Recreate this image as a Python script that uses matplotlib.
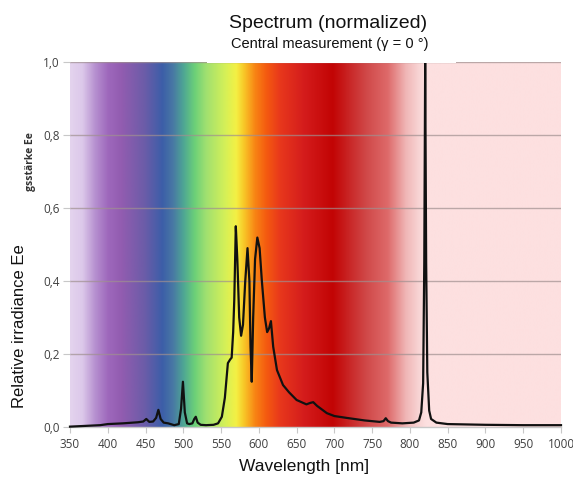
import numpy as np
import matplotlib
matplotlib.use("Agg")
import matplotlib.pyplot as plt
from matplotlib.colors import LinearSegmentedColormap, to_rgb
from matplotlib.patches import Rectangle

# ---- data ----
wavelength = [350, 370, 390, 400, 420, 440, 447, 451, 455, 460, 464, 467, 470, 474, 480,
              488, 494, 497, 499.5, 502, 505, 508, 512, 514.5, 516.5, 519, 523, 530, 540,
              546, 551, 555, 559, 562, 564, 566, 567.5, 569.5, 571.5, 574, 576.5, 579,
              582, 585, 587.5, 589, 590.6, 592.5, 595, 598, 601, 604, 608, 611, 613.5,
              616, 619, 624, 632, 640, 650, 663, 668, 672, 677, 690, 700, 716, 740, 760,
              765, 768, 771, 775, 790, 805, 812, 815, 817.5, 819, 820.2, 821.5, 823,
              825.5, 828, 835, 850, 900, 950, 1000]
irradiance = [0.001, 0.003, 0.005, 0.008, 0.010, 0.013, 0.015, 0.022, 0.014, 0.015, 0.025,
              0.047, 0.022, 0.012, 0.010, 0.005, 0.008, 0.05, 0.124, 0.04, 0.010, 0.008,
              0.010, 0.022, 0.028, 0.012, 0.006, 0.005, 0.006, 0.010, 0.028, 0.08, 0.175,
              0.185, 0.19, 0.26, 0.35, 0.55, 0.46, 0.30, 0.25, 0.28, 0.40, 0.49, 0.40,
              0.22, 0.124, 0.30, 0.46, 0.519, 0.49, 0.40, 0.30, 0.26, 0.27, 0.29, 0.22,
              0.156, 0.115, 0.095, 0.074, 0.062, 0.066, 0.068, 0.058, 0.038, 0.030,
              0.025, 0.018, 0.014, 0.016, 0.024, 0.016, 0.012, 0.010, 0.012, 0.018,
              0.04, 0.12, 0.45, 1.0, 0.45, 0.15, 0.045, 0.022, 0.012, 0.008, 0.006,
              0.005, 0.005]

# background colour stops (wavelength, colour)
bg_wl = [350, 366, 383, 400, 418, 448, 472, 486, 500, 515, 530, 555, 570, 580,
         595, 610, 628, 660, 698, 742, 771, 795, 812, 822, 1000]
bg_col = ["#e4d4ee", "#dcc8ea", "#b690d0", "#9e68bc", "#925cb0", "#6c5ca8", "#3c5ea8",
          "#4878a4", "#4ea694", "#6cd078", "#a0e070", "#d4f058", "#f4f044", "#f8c828",
          "#f88414", "#f45a10", "#e8381c", "#d41c1c", "#c20404", "#d04848", "#de6a6a",
          "#f0b6b6", "#f8d4d4", "#fde0e0", "#fde0e0"]

yticks = [0.0, 0.2, 0.4, 0.6, 0.8, 1.0]
ytick_labels = ["0,0", "0,2", "0,4", "0,6", "0,8", "1,0"]
xticks = list(range(350, 1001, 50))
xtick_labels = [str(v) for v in xticks]

title = "Spectrum (normalized)"
subtitle = "Central measurement (γ = 0 °)"
xlabel = "Wavelength [nm]"
ylabel = "Relative irradiance Ee"
ghost_label = "gsstärke Ee"

# ---- figure ----
W, H = 573, 478
fig = plt.figure(figsize=(W / 100, H / 100), dpi=100)
fig.patch.set_facecolor("white")
L, R, B, T = 70, 561, 427, 62
ax = fig.add_axes([L / W, 1 - B / H, (R - L) / W, (B - T) / H])

pos = [(w - 350) / 650 for w in bg_wl]
cmap = LinearSegmentedColormap.from_list("spec", list(zip(pos, [to_rgb(c) for c in bg_col])), N=1024)
grad = np.linspace(0, 1, 1300).reshape(1, -1)
ax.imshow(grad, cmap=cmap, extent=[350, 1000, 0, 1.0], aspect="auto", zorder=0,
          interpolation="bilinear")

ax.set_xlim(350, 1000)
ax.set_ylim(0, 1.0)

for y in yticks[1:]:
    ax.axhline(y, color="#a09090", lw=1.0, alpha=0.7, zorder=1)

ax.plot(wavelength, irradiance, color="#111111", lw=1.6, zorder=3,
        solid_joinstyle="round", clip_on=False)

for s in ["top", "right", "left"]:
    ax.spines[s].set_visible(False)
ax.spines["bottom"].set_color("#c8c8c8")
ax.spines["bottom"].set_linewidth(1.0)

ax.set_xticks(xticks)
ax.set_xticklabels(xtick_labels)
ax.set_yticks(yticks)
ax.set_yticklabels(ytick_labels)
ax.tick_params(axis="x", length=4, color="#c8c8c8", labelsize=8.5, labelcolor="#404040", pad=4)
ax.tick_params(axis="y", length=5, color="#c8c8c8", labelsize=8.5, labelcolor="#404040", pad=2.5)
for lab in ax.get_xticklabels() + ax.get_yticklabels():
    lab.set_family("Open Sans")

fig.text(304 / W, 1 - 467 / H, xlabel, ha="center", va="center", fontsize=12.5,
         family="Liberation Sans", color="#111111")
fig.text(20 / W, 1 - 326 / H, ylabel, ha="center", va="center", rotation=90, fontsize=12,
         family="Liberation Sans", color="#111111")
fig.text(31 / W, 1 - 162 / H, ghost_label, ha="center", va="center", rotation=90, fontsize=7.5,
         family="Open Sans", weight="bold", color="#333333")

# white box behind the title
fig.patches.append(Rectangle((207 / W, 1 - 63 / H), (456 - 207) / W, (63 - 13) / H,
                             transform=fig.transFigure, facecolor="white", edgecolor="none",
                             zorder=5))
fig.text(328 / W, 1 - 23 / H, title, ha="center", va="center", fontsize=14,
         family="Liberation Sans", color="#111111", zorder=6)
fig.text(330 / W, 1 - 44 / H, subtitle, ha="center", va="center", fontsize=10.5,
         family="Liberation Sans", color="#111111", zorder=6)

fig.savefig("out.png", dpi=100)
